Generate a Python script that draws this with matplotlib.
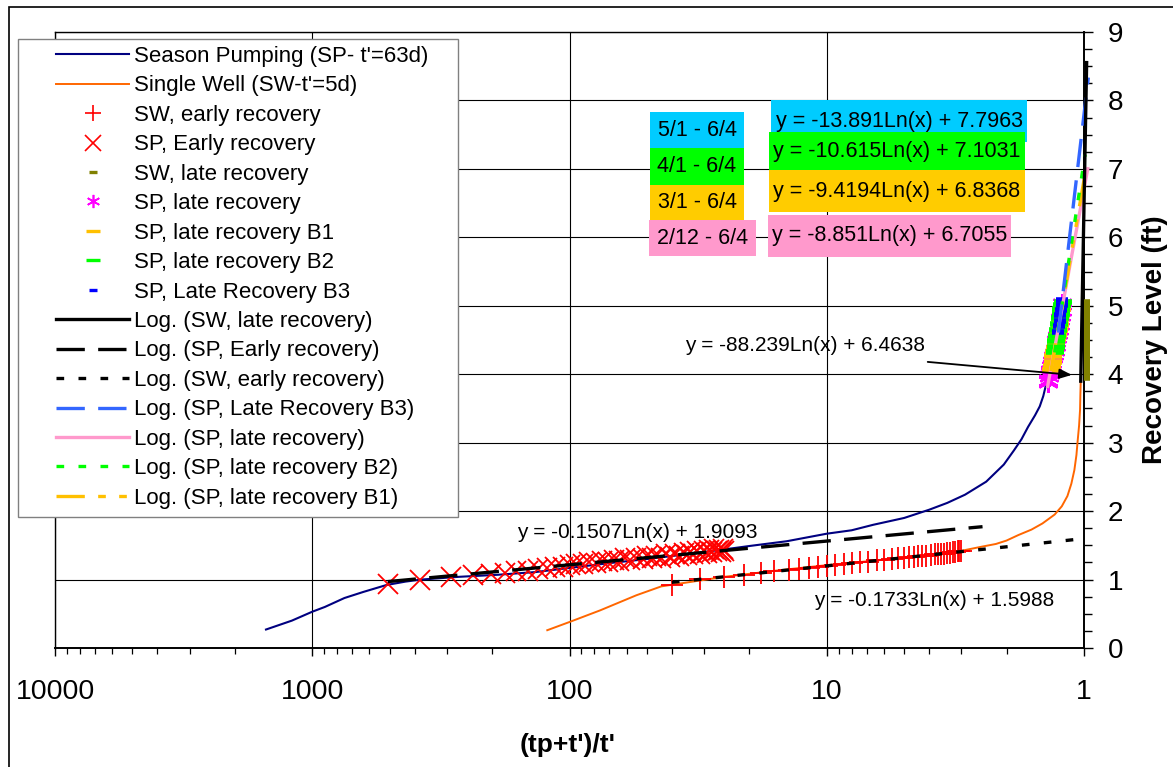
import numpy as np
import matplotlib
matplotlib.use('Agg')
import matplotlib.pyplot as plt
from matplotlib.patches import Rectangle
from matplotlib.lines import Line2D
from matplotlib.ticker import MultipleLocator, LogLocator, NullFormatter

plt.rcParams['font.family'] = ['Liberation Sans', 'DejaVu Sans']

# ---- data ----

# Season Pumping (SP- t'=63d)
sp_x = [1513, 1200, 1000, 893, 750, 632, 515, 434, 377, 269, 190, 135, 100, 70, 50, 35,
        24, 20, 14.3, 10, 8, 6.6, 5, 4.0, 3.4, 2.9, 2.4, 2.05, 1.87, 1.75, 1.65, 1.55,
        1.486, 1.44, 1.40]
sp_y = [0.27, 0.40, 0.53, 0.60, 0.73, 0.82, 0.92, 0.97, 1.00, 1.04, 1.07, 1.11, 1.17, 1.24,
        1.30, 1.37, 1.45, 1.49, 1.56, 1.67, 1.72, 1.80, 1.90, 2.02, 2.12, 2.24, 2.43, 2.68,
        2.89, 3.05, 3.23, 3.40, 3.53, 3.68, 3.87]

# Single Well (SW-t'=5d)
sw_x = [122, 100, 76, 55, 44, 36, 25, 15, 10, 6, 4, 3, 2.5, 2.2, 2.0, 1.8, 1.6, 1.45, 1.3,
        1.22, 1.16, 1.12, 1.09, 1.07, 1.06, 1.045, 1.036, 1.033, 1.030]
sw_y = [0.26, 0.38, 0.55, 0.77, 0.90, 0.95, 1.04, 1.14, 1.21, 1.29, 1.35, 1.42, 1.48, 1.52,
        1.57, 1.65, 1.73, 1.82, 1.95, 2.07, 2.22, 2.40, 2.60, 2.82, 3.00, 3.25, 3.48, 3.70, 3.88]

# SW, early recovery
swe_x = [40, 31, 25, 21, 18, 16, 14, 12.8, 11.7, 10.8, 10, 9.3, 8.6, 8.0, 7.4, 6.9, 6.4, 6.0,
         5.6, 5.3, 5.0, 4.8, 4.6, 4.4, 4.25, 4.1, 3.95, 3.8, 3.7, 3.6, 3.5, 3.4, 3.32, 3.24,
         3.17, 3.1, 3.05, 3.0]
swe_y = [0.92, 1.01, 1.04, 1.07, 1.10, 1.12, 1.14, 1.16, 1.17, 1.19, 1.20, 1.21, 1.23, 1.24,
         1.25, 1.26, 1.28, 1.29, 1.30, 1.31, 1.32, 1.33, 1.33, 1.34, 1.35, 1.35, 1.36, 1.37,
         1.37, 1.38, 1.38, 1.39, 1.39, 1.40, 1.40, 1.41, 1.41, 1.42]

# SP, Early recovery
spe_x = [509, 382, 288, 237, 202, 178, 161, 145, 133, 122, 114, 106, 100, 94, 89, 84, 79, 75,
         71, 67, 64, 61, 58, 55, 52, 50, 48, 46, 44, 42, 40.5, 39, 37.5, 36, 35, 34, 33, 32,
         31, 30, 29.3, 28.6, 28, 27.4, 26.8, 26.3, 25.8, 25.3, 25]
spe_y = [0.93, 1.00, 1.04, 1.06, 1.08, 1.10, 1.12, 1.13, 1.15, 1.17, 1.18, 1.19, 1.21, 1.23,
         1.22, 1.25, 1.24, 1.27, 1.26, 1.29, 1.27, 1.31, 1.28, 1.32, 1.30, 1.34, 1.31, 1.35,
         1.32, 1.37, 1.33, 1.38, 1.35, 1.39, 1.36, 1.40, 1.37, 1.41, 1.38, 1.42, 1.39, 1.43,
         1.40, 1.44, 1.41, 1.43, 1.40, 1.44, 1.42]

# SW, late recovery
swl_x = [0.977, 0.976, 0.977, 0.976, 0.977, 0.976, 0.977, 0.976, 0.977, 0.976, 0.977, 0.976,
         0.977, 0.976, 0.977, 0.976, 0.977, 0.976, 0.977, 0.976, 0.977, 0.976, 0.977]
swl_y = [3.95, 4.00, 4.05, 4.10, 4.15, 4.20, 4.25, 4.30, 4.35, 4.40, 4.45, 4.50, 4.55, 4.60,
         4.65, 4.70, 4.75, 4.80, 4.85, 4.90, 4.95, 5.00, 5.05]

# SP, late recovery (2/12 - 6/4)
spl_x = [1.385, 1.375, 1.37, 1.36, 1.352, 1.345, 1.335, 1.327, 1.318, 1.31, 1.30, 1.29, 1.282,
         1.272, 1.265, 1.255, 1.245, 1.238, 1.23, 1.222, 1.215]
spl_y = [3.88, 3.92, 3.98, 4.02, 4.05, 4.10, 4.14, 4.18, 4.25, 4.30, 4.35, 4.42, 4.48, 4.55,
         4.60, 4.66, 4.74, 4.80, 4.87, 4.94, 5.02]

# SP, late recovery B1 (3/1 - 6/4)
b1_x = [1.345, 1.335, 1.325, 1.315, 1.305, 1.295, 1.285, 1.275, 1.265, 1.255, 1.245, 1.235,
        1.228, 1.22]
b1_y = [4.06, 4.12, 4.18, 4.26, 4.32, 4.38, 4.45, 4.52, 4.58, 4.65, 4.72, 4.80, 4.87, 4.95]

# SP, late recovery B2 (4/1 - 6/4)
b2_x = [1.30, 1.29, 1.28, 1.27, 1.26, 1.25, 1.24, 1.232, 1.225, 1.218, 1.212]
b2_y = [4.32, 4.40, 4.48, 4.56, 4.65, 4.73, 4.82, 4.88, 4.95, 5.01, 5.06]

# SP, Late Recovery B3 (5/1 - 6/4)
b3_x = [1.258, 1.25, 1.243, 1.236, 1.229, 1.222, 1.216]
b3_y = [4.61, 4.70, 4.78, 4.86, 4.94, 5.01, 5.08]

# log trendlines: (slope, intercept) and x span drawn
fit_sw_late = (-88.239, 6.4638)
fit_sp_early = (-0.1507, 1.9093)
fit_sw_early = (-0.1733, 1.5988)
fit_b3 = (-13.891, 7.7963)
fit_sp_late = (-8.851, 6.7055)
fit_b2 = (-10.615, 7.1031)
fit_b1 = (-9.4194, 6.8368)
span_sw_late = (1.0295, 0.9766)
span_sp_early = (509, 2.48)
span_sw_early = (40, 1.0)
span_b3 = (1.258, 0.962)
span_sp_late = (1.385, 0.967)
span_b2 = (1.30, 0.99)
span_b1 = (1.345, 0.985)

x_ticks = [10000, 1000, 100, 10, 1]
x_tick_labels = ['10000', '1000', '100', '10', '1']
y_ticks = [0, 1, 2, 3, 4, 5, 6, 7, 8, 9]
y_tick_labels = ['0', '1', '2', '3', '4', '5', '6', '7', '8', '9']

W, H = 1173, 767


def fx(px):
    return px / W


def fy(py):
    return 1 - py / H


def trend(coef, span):
    x = np.geomspace(span[0], span[1], 300)
    return x, coef[0] * np.log(x) + coef[1]


fig = plt.figure(figsize=(W / 100, H / 100), dpi=100)
ax = fig.add_axes([fx(55), fy(648), (1084 - 55) / W, (648 - 32) / H])
ax.set_xscale('log')
ax.set_xlim(10000, 1)
ax.set_ylim(0, 9)

h = {}
# series
h['sp'], = ax.plot(sp_x, sp_y, color='#000080', lw=1.5, zorder=3)
h['sw'], = ax.plot(sw_x, sw_y, color='#FF6600', lw=1.4, zorder=3)
ax.plot(swe_x, swe_y, ls='none', marker='+', ms=16, mew=1.3, color='#FF0000', zorder=4)
ax.plot(spe_x, spe_y, ls='none', marker='x', ms=15, mew=1.3, color='#FF0000', zorder=4)
ax.plot(swl_x, swl_y, ls='none', marker='_', ms=5, mew=4, color='#808000', zorder=4, clip_on=False)
ax.plot(spl_x, spl_y, ls='none', marker=(6, 2, 0), ms=15, mew=1.5, color='#FF00FF', zorder=4)
ax.plot(b1_x, b1_y, ls='none', marker='_', ms=13, mew=4, color='#FFC000', zorder=4)
ax.plot(b2_x, b2_y, ls='none', marker='_', ms=13, mew=4, color='#00FF00', zorder=4)
ax.plot(b3_x, b3_y, ls='none', marker='_', ms=8, mew=4, color='#0000FF', zorder=4)

# legend proxies for the marker series (legend symbols are smaller)
h['swe'] = Line2D([], [], ls='none', marker='+', ms=11, mew=1.2, color='#FF0000')
h['spe'] = Line2D([], [], ls='none', marker='x', ms=11, mew=1.2, color='#FF0000')
h['swl'] = Line2D([], [], ls='none', marker='_', ms=6, mew=2.4, color='#808000')
h['spl'] = Line2D([], [], ls='none', marker=(6, 2, 0), ms=9.5, mew=1.2, color='#FF00FF')
h['b1'] = Line2D([], [], ls='none', marker='_', ms=9.5, mew=2.4, color='#FFC000')
h['b2'] = Line2D([], [], ls='none', marker='_', ms=9.5, mew=2.4, color='#00FF00')
h['b3'] = Line2D([], [], ls='none', marker='_', ms=6, mew=2.4, color='#0000FF')

# trendlines
long_dash = (8.5, 4)
short_dash = (2.3, 4.3)
dash_dot_dot = (8.5, 4, 2.3, 4, 2.3, 4)

x, y = trend(fit_sp_late, span_sp_late)
h['f_spl'], = ax.plot(x, y, color='#FF99CC', lw=2.4, zorder=4.5, clip_on=False)
x, y = trend(fit_b1, span_b1)
h['f_b1'], = ax.plot(x, y, color='#FFC000', lw=2.4, dashes=dash_dot_dot, zorder=4.5, clip_on=False)
x, y = trend(fit_b2, span_b2)
h['f_b2'], = ax.plot(x, y, color='#00FF00', lw=2.4, dashes=short_dash, zorder=4.5, clip_on=False)
x, y = trend(fit_b3, span_b3)
h['f_b3'], = ax.plot(x, y, color='#3366FF', lw=2.4, dashes=long_dash, zorder=4.5, clip_on=False)
x, y = trend(fit_sw_late, span_sw_late)
h['f_swl'], = ax.plot(x, y, color='black', lw=2.4, zorder=4.5, clip_on=False)
x, y = trend(fit_sp_early, span_sp_early)
h['f_spe'], = ax.plot(x, y, color='black', lw=2.4, dashes=long_dash, zorder=4.5)
x, y = trend(fit_sw_early, span_sw_early)
h['f_swe'], = ax.plot(x, y, color='black', lw=2.4, dashes=short_dash, zorder=4.5)

# axes styling
ax.set_axisbelow(True)
ax.grid(True, which='major', color='black', lw=0.8)
ax.yaxis.tick_right()
ax.set_yticks(y_ticks)
ax.set_yticklabels(y_tick_labels)
ax.yaxis.set_minor_locator(MultipleLocator(0.25))
ax.set_xticks(x_ticks)
ax.set_xticklabels(x_tick_labels)
ax.xaxis.set_minor_locator(LogLocator(base=10, subs=np.arange(2, 10)))
ax.xaxis.set_minor_formatter(NullFormatter())
ax.tick_params(axis='y', which='major', direction='out', length=6.5, width=1, labelsize=20, pad=10.5)
ax.tick_params(axis='y', which='minor', direction='out', length=6, width=1)
ax.tick_params(axis='x', which='major', direction='out', length=6, width=1, labelsize=20.5, pad=16)
ax.tick_params(axis='x', which='minor', direction='out', length=4.3, width=0.9)
for s in ['left', 'top']:
    ax.spines[s].set_linewidth(1.0)
for s in ['right', 'bottom']:
    ax.spines[s].set_linewidth(1.4)

ax.set_xlabel("(tp+t')/t'", fontsize=19, fontweight='bold')
ax.xaxis.set_label_coords((567.5 - 55) / 1029, -(745 - 648) / 616)
ax.xaxis.label.set_va('center')
ax.yaxis.set_label_position('right')
ax.set_ylabel('Recovery Level (ft)', fontsize=20, fontweight='bold')
ax.yaxis.set_label_coords((1155 - 55) / 1029, 0.5)
ax.yaxis.label.set_va('center')

# legend with its own frame
order = [('sp', "Season Pumping (SP- t'=63d)"),
         ('sw', "Single Well (SW-t'=5d)"),
         ('swe', 'SW, early recovery'),
         ('spe', 'SP, Early recovery'),
         ('swl', 'SW, late recovery'),
         ('spl', 'SP, late recovery'),
         ('b1', 'SP, late recovery B1'),
         ('b2', 'SP, late recovery B2'),
         ('b3', 'SP, Late Recovery B3'),
         ('f_swl', 'Log. (SW, late recovery)'),
         ('f_spe', 'Log. (SP, Early recovery)'),
         ('f_swe', 'Log. (SW, early recovery)'),
         ('f_b3', 'Log. (SP, Late Recovery B3)'),
         ('f_spl', 'Log. (SP, late recovery)'),
         ('f_b2', 'Log. (SP, late recovery B2)'),
         ('f_b1', 'Log. (SP, late recovery B1)')]
ax.add_patch(Rectangle((fx(18), fy(517)), (458 - 18) / W, (517 - 39) / H, transform=fig.transFigure,
                       facecolor='white', edgecolor='#808080', lw=1.0, zorder=6, clip_on=False))
leg = ax.legend([h[k] for k, _ in order], [t for _, t in order], loc='upper left',
                bbox_to_anchor=(fx(56), fy(46)), bbox_transform=fig.transFigure, frameon=False,
                borderpad=0, borderaxespad=0, fontsize=16, handlelength=3.3, handletextpad=0.22,
                labelspacing=0.38, numpoints=1)
leg.set_zorder(7)

# trendline equations
eq_font = 15
fig.text(fx(637), fy(532), 'y = -0.1507Ln(x) + 1.9093', fontsize=eq_font, ha='center', va='center')
fig.text(fx(934), fy(600), 'y = -0.1733Ln(x) + 1.5988', fontsize=eq_font, ha='center', va='center')
fig.text(fx(805), fy(345), 'y = -88.239Ln(x) + 6.4638', fontsize=eq_font, ha='center', va='center')
ax.annotate('', xy=(1.115, 3.99), xytext=(4.05, 4.18),
            arrowprops=dict(arrowstyle='-|>,head_length=0.5,head_width=0.2', color='black', lw=1.3,
                            shrinkA=0, shrinkB=0, mutation_scale=15), zorder=6)

# coloured period / equation boxes
boxes = [((650, 112, 744, 148), '#00CCFF', '5/1 - 6/4'),
         ((650, 148, 744, 185), '#00FF00', '4/1 - 6/4'),
         ((650, 185, 744, 220), '#FFCC00', '3/1 - 6/4'),
         ((649, 220, 756, 256), '#FF99CC', '2/12 - 6/4'),
         ((771, 100, 1027, 142), '#00CCFF', 'y = -13.891Ln(x) + 7.7963'),
         ((769, 132, 1025, 170), '#00FF00', 'y = -10.615Ln(x) + 7.1031'),
         ((769, 170, 1025, 212), '#FFCC00', 'y = -9.4194Ln(x) + 6.8368'),
         ((768, 215, 1011, 257), '#FF99CC', 'y = -8.851Ln(x) + 6.7055')]
for i, ((x0, y0, x1, y1), c, t) in enumerate(boxes):
    fig.add_artist(Rectangle((fx(x0), fy(y1)), (x1 - x0) / W, (y1 - y0) / H, transform=fig.transFigure,
                             facecolor=c, edgecolor='none', zorder=2 + i * 0.01))
    fig.text(fx((x0 + x1) / 2), fy((y0 + y1) / 2), t, fontsize=15.5, ha='center', va='center', zorder=3)

# outer chart border
fig.add_artist(Rectangle((fx(9), fy(800)), (1200 - 9) / W, (800 - 7) / H, transform=fig.transFigure,
                         fill=False, edgecolor='black', lw=1.2))

fig.savefig('out.png', dpi=100)
